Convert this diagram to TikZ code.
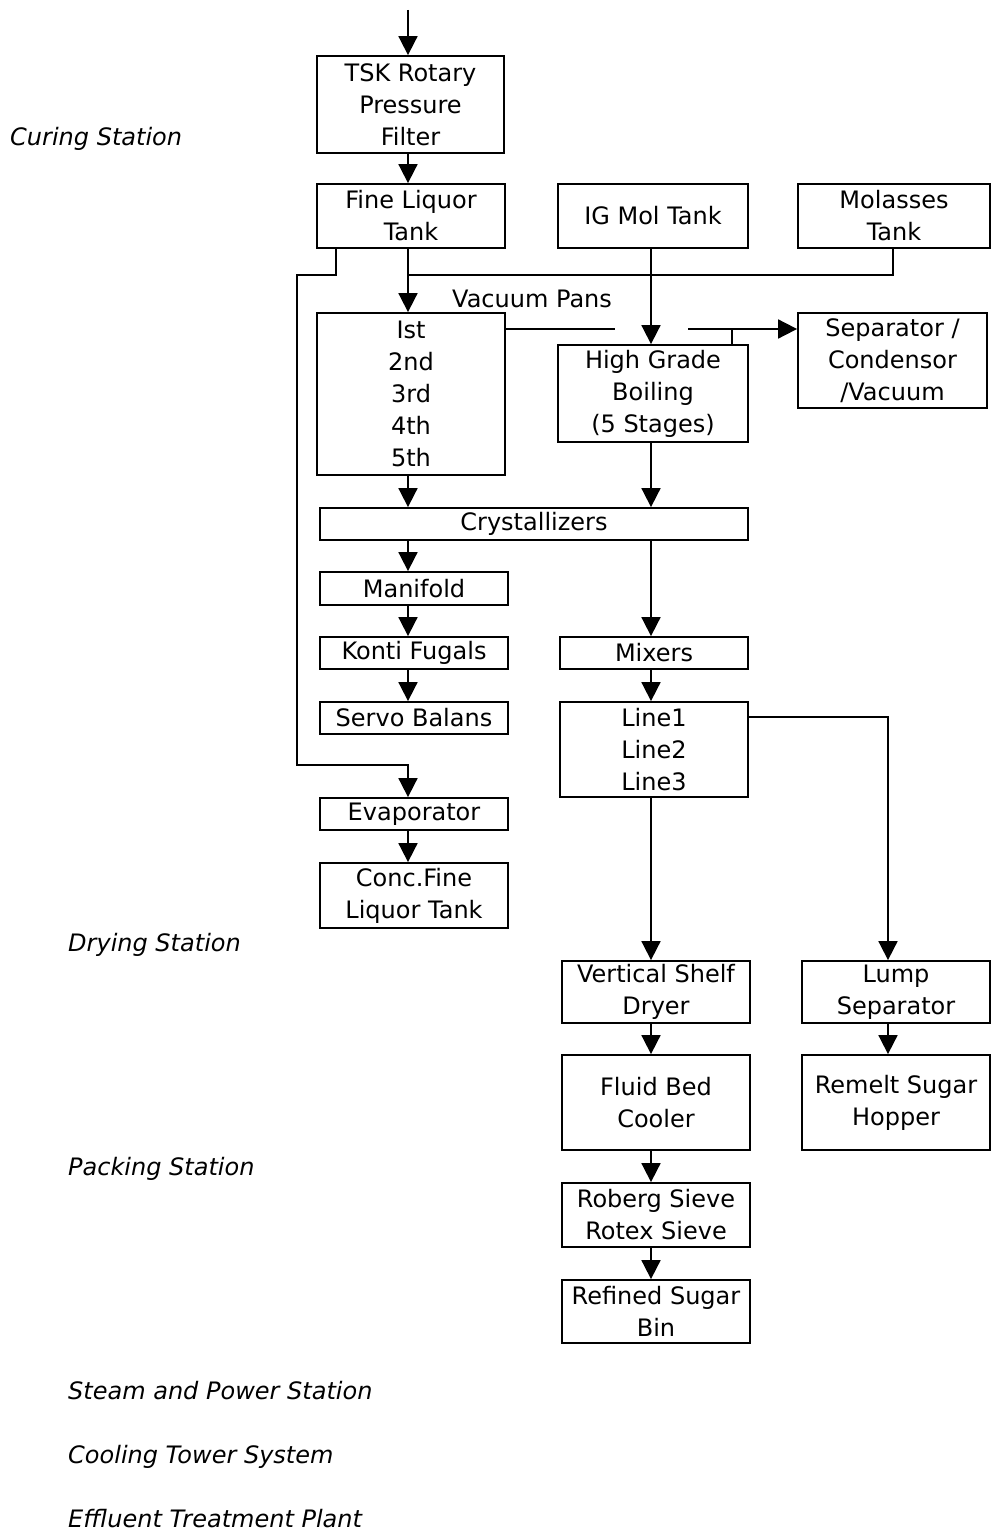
\documentclass[tikz,border=0pt]{standalone}
\usepackage{fontspec}
\setmainfont{DejaVu Sans}
\usetikzlibrary{arrows.meta}
\begin{document}
\begin{tikzpicture}[x=1pt,y=-1pt,
  box/.style={draw, line width=1.8pt, inner sep=0pt, align=center, font=\fontsize{24}{32}\selectfont},
  ln/.style={line width=1.8pt},
  arr/.style={ln, -{Triangle[width=19pt,length=19pt]}},
  lbl/.style={font=\fontsize{24}{28}\selectfont\itshape, anchor=base west, inner sep=0pt}]
\useasboundingbox (0,0) rectangle (991,1538);
% boxes
\node[box, minimum width=187pt, minimum height=97pt] (tsk) at (410.5,104.5) {TSK Rotary\\Pressure\\Filter};
\node[box, minimum width=188pt, minimum height=64pt] (fine) at (411,216) {Fine Liquor\\Tank};
\node[box, minimum width=190pt, minimum height=64pt] (igmol) at (653,216) {IG Mol Tank};
\node[box, minimum width=192pt, minimum height=64pt] (mol) at (894,216) {Molasses\\Tank};
\node[box, minimum width=188pt, minimum height=162pt] (vac) at (411,394) {Ist\\2nd\\3rd\\4th\\5th};
\node[box, minimum width=190pt, minimum height=97pt] (hgb) at (653,393.5) {High Grade\\Boiling\\(5 Stages)};
\node[box, minimum width=189pt, minimum height=95pt] (sep) at (892.5,360.5) {Separator /\\Condensor\\/Vacuum};
\node[box, minimum width=428pt, minimum height=32pt] (cry) at (534,524) {Crystallizers};
\node[box, minimum width=188pt, minimum height=33pt] (man) at (414,588.5) {Manifold};
\node[box, minimum width=188pt, minimum height=32pt] (kon) at (414,653) {Konti Fugals};
\node[box, minimum width=188pt, minimum height=32pt] (ser) at (414,718) {Servo Balans};
\node[box, minimum width=188pt, minimum height=32pt] (eva) at (414,814) {Evaporator};
\node[box, minimum width=188pt, minimum height=65pt] (con) at (414,895.5) {Conc.Fine\\Liquor Tank};
\node[box, minimum width=188pt, minimum height=32pt] (mix) at (654,653) {Mixers};
\node[box, minimum width=188pt, minimum height=95pt] (lin) at (654,749.5) {Line1\\Line2\\Line3};
\node[box, minimum width=188pt, minimum height=62pt] (vsd) at (656,992) {Vertical Shelf\\Dryer};
\node[box, minimum width=188pt, minimum height=95pt] (fbc) at (656,1102.5) {Fluid Bed\\Cooler};
\node[box, minimum width=188pt, minimum height=64pt] (rob) at (656,1215) {Roberg Sieve\\Rotex Sieve};
\node[box, minimum width=188pt, minimum height=63pt] (ref) at (656,1311.5) {Refined Sugar\\Bin};
\node[box, minimum width=188pt, minimum height=62pt] (lump) at (896,992) {Lump\\Separator};
\node[box, minimum width=188pt, minimum height=95pt] (rem) at (896,1102.5) {Remelt Sugar\\Hopper};
% labels
\node[lbl] (vpl) at (452,307) {\upshape Vacuum Pans};
\node[lbl] (l1) at (10,146) {Curing Station};
\node[lbl] (l2) at (68,951) {Drying Station};
\node[lbl] (l3) at (68,1175) {Packing Station};
\node[lbl] (l4) at (68,1399) {Steam and Power Station};
\node[lbl] (l5) at (68,1463) {Cooling Tower System};
\node[lbl] (l6) at (68,1527) {Effluent Treatment Plant};
% reference coordinates
\coordinate (in) at (408,10);
\coordinate (xL) at (408,0);
\coordinate (xC) at (651,0);
\coordinate (xR) at (888,0);
\coordinate (xM) at (893,0);
\coordinate (xF) at (336,0);
\coordinate (xB) at (297,0);
\coordinate (xT) at (732,0);
\coordinate (xG1) at (615,0);
\coordinate (xG2) at (688,0);
\coordinate (yA) at (0,275);
\coordinate (yV) at (0,329);
\coordinate (yE) at (0,765);
\coordinate (yL) at (0,717);
% connectors
\draw[arr] (in) -- (in |- tsk.north);
\draw[arr] (tsk.south -| xL) -- (fine.north -| xL);
\draw[arr] (fine.south -| xL) -- (vac.north -| xL);
\draw[ln] (yA -| xL) -- (yA -| xM) -- (mol.south -| xM);
\draw[arr] (fine.south -| xF) |- (yA -| xB) |- (yE -| xL) -- (eva.north -| xL);
\draw[arr] (igmol.south -| xC) -- (hgb.north -| xC);
\draw[ln] (vac.east |- yV) -- (yV -| xG1);
\draw[arr] (yV -| xG2) -- (sep.west |- yV);
\draw[ln] (yV -| xT) -- (hgb.north -| xT);
\draw[arr] (vac.south -| xL) -- (cry.north -| xL);
\draw[arr] (hgb.south -| xC) -- (cry.north -| xC);
\draw[arr] (cry.south -| xL) -- (man.north -| xL);
\draw[arr] (man.south -| xL) -- (kon.north -| xL);
\draw[arr] (kon.south -| xL) -- (ser.north -| xL);
\draw[arr] (eva.south -| xL) -- (con.north -| xL);
\draw[arr] (cry.south -| xC) -- (mix.north -| xC);
\draw[arr] (mix.south -| xC) -- (lin.north -| xC);
\draw[arr] (lin.south -| xC) -- (vsd.north -| xC);
\draw[arr] (vsd.south -| xC) -- (fbc.north -| xC);
\draw[arr] (fbc.south -| xC) -- (rob.north -| xC);
\draw[arr] (rob.south -| xC) -- (ref.north -| xC);
\draw[arr] (lin.east |- yL) -| (lump.north -| xR);
\draw[arr] (lump.south -| xR) -- (rem.north -| xR);
\end{tikzpicture}
\end{document}
